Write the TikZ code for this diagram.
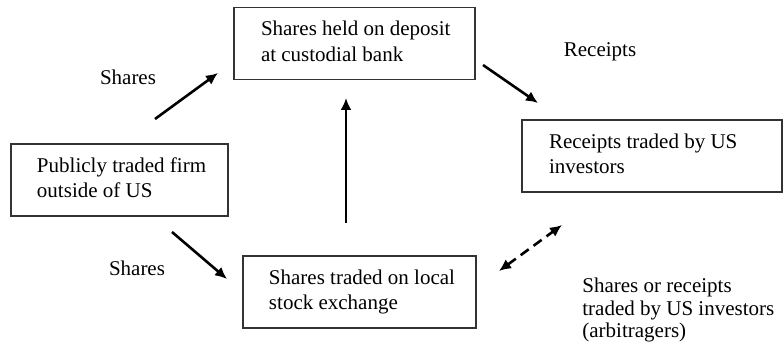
\documentclass[tikz,border=0pt]{standalone}
\usepackage{fontspec}
\setmainfont{Liberation Serif}
\usetikzlibrary{arrows.meta}
\newcommand{\boxlines}[2]{\makebox[#1][l]{\begin{tabular}{@{}l@{}}#2\end{tabular}}}
\tikzset{
  box/.style={draw=black!80, line width=0.6pt, rectangle, minimum height=36pt,
    font=\fontsize{10.5}{12.75}\selectfont, inner ysep=0pt},
  flow/.style={line width=1.3pt, -{Latex[length=6pt,width=5.5pt]}},
  dflow/.style={line width=1.3pt, dash pattern=on 5pt off 3pt, {Latex[length=6pt,width=5.5pt]}-{Latex[length=6pt,width=5.5pt]}},
  lbl/.style={font=\fontsize{10.5}{11.25}\selectfont, inner sep=0pt, align=left}
}
\begin{document}
\begin{tikzpicture}[x=0.5pt,y=-0.5pt]
\useasboundingbox (0,0) rectangle (784,347);
\node (top) [box, minimum width=120.5pt, inner xsep=13.5pt] at (354.5,43.5) {\boxlines{93.5pt}{Shares held on deposit\\at custodial bank}};
\node (firm) [box, minimum width=108.5pt, inner xsep=13pt] at (119.5,180) {\boxlines{82.5pt}{Publicly traded firm\\outside of US}};
\node (us) [box, minimum width=130pt, inner xsep=13.5pt] at (652,156) {\boxlines{103pt}{Receipts traded by US\\investors}};
\node (local) [box, minimum width=116.5pt, inner xsep=13pt] at (359.5,292) {\boxlines{90.5pt}{Shares traded on local\\stock exchange}};

\coordinate (a1s) at (155,119); \coordinate (a1e) at (218,73);
\coordinate (a2s) at (483,65);  \coordinate (a2e) at (538,103);
\coordinate (a3s) at (346,223); \coordinate (a3e) at (346,98);
\coordinate (a4s) at (172,232); \coordinate (a4e) at (227,279);
\coordinate (a5s) at (499,271); \coordinate (a5e) at (562,225);

\draw[flow] (a1s) -- (a1e);
\draw[flow] (a2s) -- (a2e);
\draw[flow] (a3s) -- (a3e);
\draw[flow] (a4s) -- (a4e);
\draw[dflow] (a5s) -- (a5e);

\node (l1) [lbl] at (128,77) {Shares};
\node (l2) [lbl] at (600,52) {Receipts};
\node (l3) [lbl] at (137,268) {Shares};
\node (l4) [lbl, anchor=west] at (582,310) {Shares or receipts\\traded by US investors\\(arbitragers)};
\end{tikzpicture}
\end{document}
